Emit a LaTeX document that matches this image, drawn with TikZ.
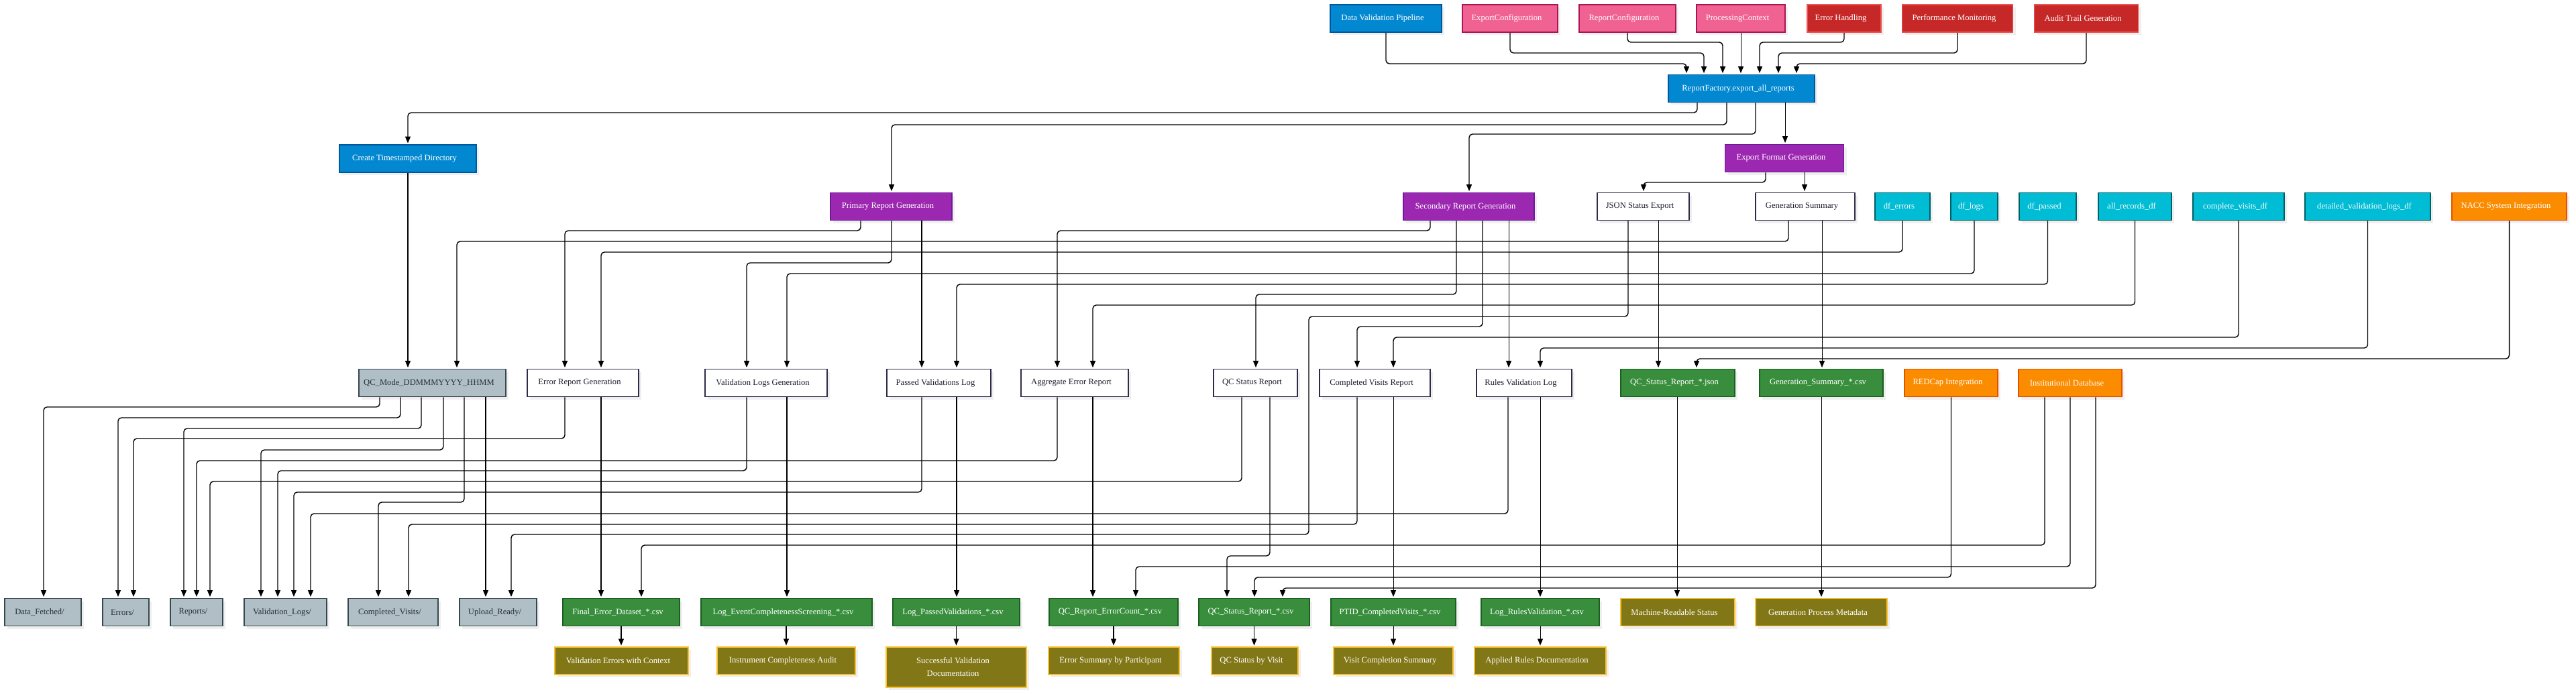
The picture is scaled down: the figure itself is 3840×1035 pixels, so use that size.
\documentclass[tikz,border=0pt]{standalone}
\usepackage{fontspec}
\setmainfont{Liberation Serif}
\usetikzlibrary{arrows.meta,shadows}
\definecolor{cBlue}{HTML}{0288D1}\definecolor{cBlueB}{HTML}{01579B}
\definecolor{cPink}{HTML}{F06292}\definecolor{cPinkB}{HTML}{AD1457}
\definecolor{cRed}{HTML}{C62828}\definecolor{cRedB}{HTML}{EF5350}
\definecolor{cPurp}{HTML}{9C27B0}\definecolor{cPurpB}{HTML}{6A1B9A}
\definecolor{cCyan}{HTML}{00BCD4}\definecolor{cCyanB}{HTML}{006064}
\definecolor{cOrng}{HTML}{FB8C00}\definecolor{cOrngB}{HTML}{E65100}
\definecolor{cGray}{HTML}{B0BEC5}\definecolor{cGrayB}{HTML}{37474F}\definecolor{cGrayT}{HTML}{263238}
\definecolor{cGrn}{HTML}{388E3C}\definecolor{cGrnB}{HTML}{1B5E20}
\definecolor{cOliv}{HTML}{827717}\definecolor{cOlivB}{HTML}{FBC02D}
\definecolor{cWhtB}{HTML}{2C2C4A}\definecolor{cWhtT}{HTML}{1E1E2E}
\newcommand\dfont{\fontsize{12.6}{15}\selectfont}
\tikzset{
  box/.style={draw, line width=1.8pt, minimum height=41pt, inner sep=2pt, font=\dfont, text=white,
    execute at begin node={\hspace*{-10pt}},
    drop shadow={shadow xshift=4pt, shadow yshift=-4pt, opacity=0.12}},
  blueb/.style={box, fill=cBlue, draw=cBlueB},
  pinkb/.style={box, fill=cPink, draw=cPinkB},
  redb/.style={box, fill=cRed, draw=cRedB},
  purpb/.style={box, fill=cPurp, draw=cPurpB},
  cyanb/.style={box, fill=cCyan, draw=cCyanB},
  orngb/.style={box, fill=cOrng, draw=cOrngB},
  grayb/.style={box, fill=cGray, draw=cGrayB, text=cGrayT},
  grnb/.style={box, fill=cGrn, draw=cGrnB},
  olivb/.style={box, fill=cOliv, draw=cOlivB},
  whtb/.style={box, fill=white, draw=cWhtB, text=cWhtT},
  arr/.style={draw=black, line width=1.4pt, rounded corners=5pt,
    -{Triangle[length=10pt,width=8pt]}, shorten >=1.5pt},
  sarr/.style={arr, line width=1.05pt},
}
\begin{document}
\begin{tikzpicture}[x=1pt,y=-1pt]
\fill[white] (0,0) rectangle (3840,1035);
\useasboundingbox (0,0) rectangle (3840,1035);
% row 1
\node[blueb, minimum width=166pt] (dvp) at (2066,27.5) {Data Validation Pipeline};
\node[pinkb, minimum width=142pt] (expcfg) at (2251,27.5) {ExportConfiguration};
\node[pinkb, minimum width=144pt] (repcfg) at (2426,27.5) {ReportConfiguration};
\node[pinkb, minimum width=132pt] (proc) at (2595,27.5) {ProcessingContext};
\node[redb, minimum width=110pt] (errh) at (2749,27.5) {Error Handling};
\node[redb, minimum width=165pt] (perf) at (2918,27.5) {Performance Monitoring};
\node[redb, minimum width=155pt] (audit) at (3110,27.5) {Audit Trail Generation};
\node[blueb, minimum width=218pt] (rf) at (2596,132) {ReportFactory.export\_all\_reports};
% row ctd
\node[blueb, minimum width=204pt] (ctd) at (608,236.5) {Create Timestamped Directory};
\node[purpb, minimum width=177pt] (efg) at (2660,236) {Export Format Generation};
% row 2
\node[purpb, minimum width=181pt] (primary) at (1328.5,308) {Primary Report Generation};
\node[purpb, minimum width=195pt] (secondary) at (2189.5,308) {Secondary Report Generation};
\node[whtb, minimum width=137pt] (json) at (2449.5,308) {JSON Status Export};
\node[whtb, minimum width=148pt] (gensum) at (2691,308) {Generation Summary};
\node[cyanb, minimum width=82pt] (dferr) at (2836,308) {df\_errors};
\node[cyanb, minimum width=70pt] (dflogs) at (2943,308) {df\_logs};
\node[cyanb, minimum width=85pt] (dfpassed) at (3052.5,308) {df\_passed};
\node[cyanb, minimum width=109pt] (allrec) at (3182.5,308) {all\_records\_df};
\node[cyanb, minimum width=136pt] (compvis) at (3337,308) {complete\_visits\_df};
\node[cyanb, minimum width=187pt] (detailed) at (3529.5,308) {detailed\_validation\_logs\_df};
\node[orngb, minimum width=171pt] (nacc) at (3740.5,308) {NACC System Integration};
% row 3
\node[grayb, minimum width=219pt] (qcmode) at (644.5,571) {QC\_Mode\_DDMMMYYYY\_HHMM};
\node[whtb, minimum width=166pt] (errrep) at (869,571) {Error Report Generation};
\node[whtb, minimum width=182pt] (vallogs) at (1142,571) {Validation Logs Generation};
\node[whtb, minimum width=155pt] (passed) at (1399.5,571) {Passed Validations Log};
\node[whtb, minimum width=160pt] (aggr) at (1602,571) {Aggregate Error Report};
\node[whtb, minimum width=125pt] (qcstat) at (1871.5,571) {QC Status Report};
\node[whtb, minimum width=165pt] (compvr) at (2049.5,571) {Completed Visits Report};
\node[whtb, minimum width=142pt] (rules) at (2272,571) {Rules Validation Log};
\node[grnb, minimum width=170pt] (qcjson) at (2501,571) {QC\_Status\_Report\_*.json};
\node[grnb, minimum width=184pt] (gscsv) at (2715,571) {Generation\_Summary\_*.csv};
\node[orngb, minimum width=139pt] (redcap) at (2908.5,571) {REDCap Integration};
\node[orngb, minimum width=154pt] (instdb) at (3086,571) {Institutional Database};
% row 4
\node[grayb, minimum width=114pt] (datafetched) at (64,913) {Data\_Fetched/};
\node[grayb, minimum width=69pt] (errors) at (187.5,913) {Errors/};
\node[grayb, minimum width=78pt] (reports) at (293,913) {Reports/};
\node[grayb, minimum width=123pt] (vlogs) at (425.5,913) {Validation\_Logs/};
\node[grayb, minimum width=134pt] (cvisits) at (586,913) {Completed\_Visits/};
\node[grayb, minimum width=115pt] (upload) at (742.5,913) {Upload\_Ready/};
\node[grnb, minimum width=174pt] (finalerr) at (926,913) {Final\_Error\_Dataset\_*.csv};
\node[grnb, minimum width=255pt] (logevent) at (1172.5,913) {Log\_EventCompletenessScreening\_*.csv};
\node[grnb, minimum width=189pt] (logpassed) at (1425.5,913) {Log\_PassedValidations\_*.csv};
\node[grnb, minimum width=192pt] (qcerrcount) at (1660,913) {QC\_Report\_ErrorCount\_*.csv};
\node[grnb, minimum width=165pt] (qcstatcsv) at (1869.5,913) {QC\_Status\_Report\_*.csv};
\node[grnb, minimum width=186pt] (ptid) at (2077,913) {PTID\_CompletedVisits\_*.csv};
\node[grnb, minimum width=176pt] (logrules) at (2296,913) {Log\_RulesValidation\_*.csv};
\node[olivb, minimum width=170pt] (machine) at (2501,913) {Machine-Readable Status};
\node[olivb, minimum width=196pt] (genproc) at (2715,913) {Generation Process Metadata};
% row 5
\node[olivb, minimum width=199pt] (valerrctx) at (926.5,985.5) {Validation Errors with Context};
\node[olivb, minimum width=206pt] (instaudit) at (1172,985.5) {Instrument Completeness Audit};
\node[olivb, minimum width=209pt, minimum height=60pt, align=center, execute at begin node={},
  font=\fontsize{12.6}{19}\selectfont] (succval) at (1425.5,995) {Successful Validation\\Documentation};
\node[olivb, minimum width=195pt] (errsum) at (1660.5,985.5) {Error Summary by Participant};
\node[olivb, minimum width=129pt] (qcvisit) at (1870.5,985.5) {QC Status by Visit};
\node[olivb, minimum width=178pt] (visitsum) at (2077,985.5) {Visit Completion Summary};
\node[olivb, minimum width=196pt] (appliedrules) at (2296,985.5) {Applied Rules Documentation};

% ---- edges into ReportFactory
\draw[arr] (dvp.south) |- (2514,95) -- (rf.north -| 2514,0);
\draw[arr] (expcfg.south) |- (2540,79) -- (rf.north -| 2540,0);
\draw[arr] (repcfg.south) |- (2568,63) -- (rf.north -| 2568,0);
\draw[sarr] (proc.south) -- (proc.south |- rf.north);
\draw[arr] (errh.south) |- (2623,63) -- (rf.north -| 2623,0);
\draw[arr] (perf.south) |- (2651,79) -- (rf.north -| 2651,0);
\draw[arr] (audit.south) |- (2678,95) -- (rf.north -| 2678,0);
% ---- ReportFactory out
\draw[arr] (rf.south -| 2530,0) |- (608,168) -- (ctd.north);
\draw[arr] (rf.south -| 2574,0) |- (1329,186) -- (primary.north -| 1329,0);
\draw[arr] (rf.south -| 2617,0) |- (2190,200) -- (secondary.north -| 2190,0);
\draw[sarr] (rf.south -| 2661,0) -- (efg.north -| 2661,0);
% ---- Export Format Generation
\draw[arr] (efg.south -| 2632,0) |- (2450,272) -- (json.north -| 2450,0);
\draw[sarr] (efg.south -| 2690,0) -- (gensum.north -| 2690,0);
% ---- to row 3
\draw[sarr] (ctd.south) -- (qcmode.north -| 608,0);
\draw[arr] (primary.south -| 1283,0) |- (842,344) -- (errrep.north -| 842,0);
\draw[arr] (primary.south -| 1329,0) |- (1113,392) -- (vallogs.north -| 1113,0);
\draw[sarr] (primary.south -| 1374,0) -- (passed.north -| 1374,0);
\draw[arr] (secondary.south -| 2132,0) |- (1576,344) -- (aggr.north -| 1576,0);
\draw[arr] (secondary.south -| 2171,0) |- (1872,439) -- (qcstat.north -| 1872,0);
\draw[arr] (secondary.south -| 2210,0) |- (2023,487) -- (compvr.north -| 2023,0);
\draw[sarr] (secondary.south -| 2249,0) -- (rules.north -| 2249,0);
\draw[arr] (json.south -| 2427,0) |- (1951,472) |- (762,797) -- (upload.north -| 762,0);
\draw[sarr] (json.south -| 2472,0) -- (qcjson.north -| 2472,0);
\draw[arr] (gensum.south -| 2666,0) |- (681,360) -- (qcmode.north -| 681,0);
\draw[sarr] (gensum.south -| 2716,0) -- (gscsv.north -| 2716,0);
\draw[arr] (dferr.south) |- (896,376) -- (errrep.north -| 896,0);
\draw[arr] (dflogs.south) |- (1173,408) -- (vallogs.north -| 1173,0);
\draw[arr] (dfpassed.south) |- (1426,424) -- (passed.north -| 1426,0);
\draw[arr] (allrec.south) |- (1629,455) -- (aggr.north -| 1629,0);
\draw[arr] (compvis.south) |- (2077,503) -- (compvr.north -| 2077,0);
\draw[arr] (detailed.south) |- (2296,519) -- (rules.north -| 2296,0);
\draw[arr] (nacc.south) |- (2529,535) -- (qcjson.north -| 2529,0);
% ---- to row 4
\draw[arr] (qcmode.south -| 566,0) |- (65,607) -- (datafetched.north -| 65,0);
\draw[arr] (qcmode.south -| 597,0) |- (176,623) -- (errors.north -| 176,0);
\draw[arr] (qcmode.south -| 628,0) |- (274,639) -- (reports.north -| 274,0);
\draw[arr] (qcmode.south -| 661,0) |- (389,671) -- (vlogs.north -| 389,0);
\draw[arr] (qcmode.south -| 692,0) |- (564,749) -- (cvisits.north -| 564,0);
\draw[sarr] (qcmode.south -| 724,0) -- (upload.north -| 724,0);
\draw[arr] (errrep.south -| 842,0) |- (199,654) -- (errors.north -| 199,0);
\draw[sarr] (errrep.south -| 896,0) -- (finalerr.north -| 896,0);
\draw[arr] (vallogs.south -| 1113,0) |- (414,702) -- (vlogs.north -| 414,0);
\draw[sarr] (vallogs.south -| 1173,0) -- (logevent.north -| 1173,0);
\draw[arr] (passed.south -| 1374,0) |- (438,734) -- (vlogs.north -| 438,0);
\draw[sarr] (passed.south -| 1426,0) -- (logpassed.north -| 1426,0);
\draw[arr] (aggr.south -| 1576,0) |- (293,687) -- (reports.north -| 293,0);
\draw[sarr] (aggr.south -| 1629,0) -- (qcerrcount.north -| 1629,0);
\draw[arr] (qcstat.south -| 1851,0) |- (313,718) -- (reports.north -| 313,0);
\draw[arr] (qcstat.south -| 1893,0) |- (1829,829) -- (qcstatcsv.north -| 1829,0);
\draw[arr] (compvr.south -| 2023,0) |- (609,782) -- (cvisits.north -| 609,0);
\draw[sarr] (compvr.south -| 2077,0) -- (ptid.north -| 2077,0);
\draw[arr] (rules.south -| 2248,0) |- (463,766) -- (vlogs.north -| 463,0);
\draw[sarr] (rules.south -| 2296,0) -- (logrules.north -| 2296,0);
\draw[sarr] (qcjson.south -| 2500,0) -- (machine.north -| 2500,0);
\draw[sarr] (gscsv.south) -- (genproc.north);
\draw[arr] (redcap.south) |- (1870,861) -- (qcstatcsv.north -| 1870,0);
\draw[arr] (instdb.south -| 3048,0) |- (956,813) -- (finalerr.north -| 956,0);
\draw[arr] (instdb.south -| 3086,0) |- (1693,845) -- (qcerrcount.north -| 1693,0);
\draw[arr] (instdb.south -| 3124,0) |- (1912,877) -- (qcstatcsv.north -| 1912,0);
% ---- to row 5
\draw[sarr] (finalerr.south) -- (valerrctx.north -| finalerr.south);
\draw[sarr] (logevent.south -| instaudit.north) -- (instaudit.north);
\draw[sarr] (logpassed.south) -- (succval.north -| logpassed.south);
\draw[sarr] (qcerrcount.south) -- (errsum.north -| qcerrcount.south);
\draw[sarr] (qcstatcsv.south) -- (qcvisit.north -| qcstatcsv.south);
\draw[sarr] (ptid.south) -- (visitsum.north -| ptid.south);
\draw[sarr] (logrules.south) -- (appliedrules.north -| logrules.south);
\end{tikzpicture}
\end{document}
